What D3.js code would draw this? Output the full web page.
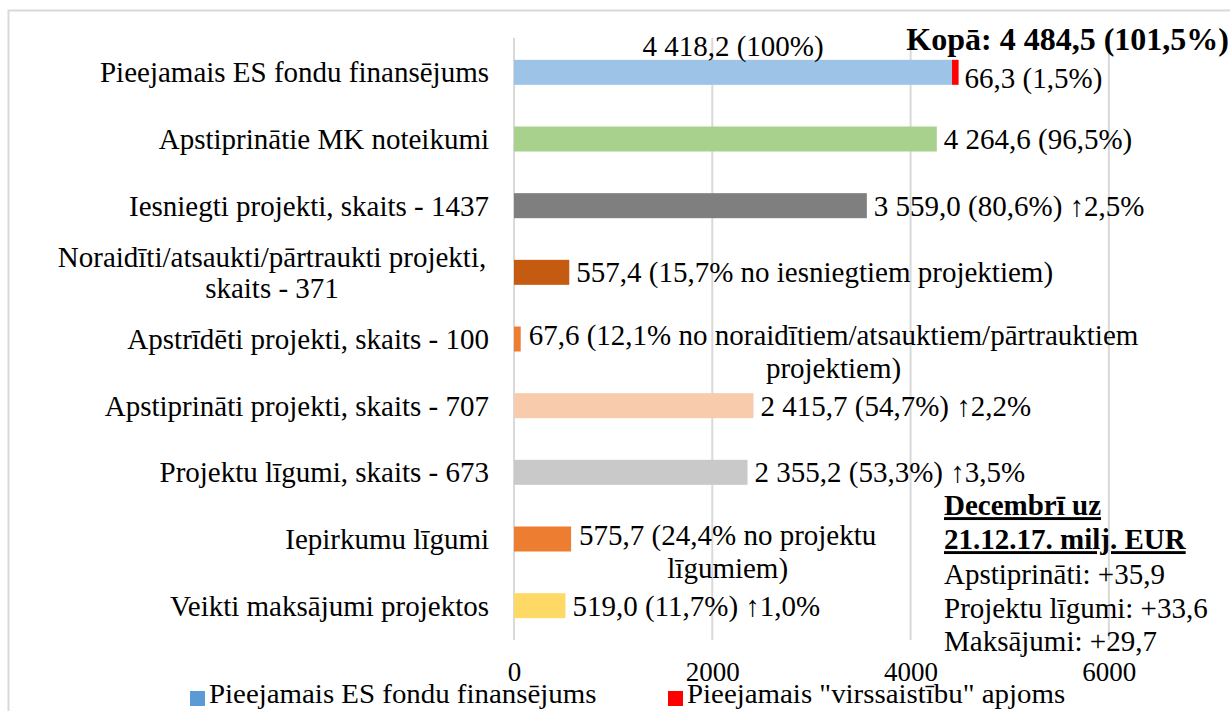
<!DOCTYPE html>
<html>
<head>
<meta charset="utf-8">
<script src="https://cdn.jsdelivr.net/npm/d3@7"></script>
<style>
  body { margin: 0; background: #fff; }
  svg text { font-family: "Liberation Serif", "DejaVu Serif", serif; fill: #000; }
</style>
</head>
<body>
<svg id="chart" width="1230" height="711"></svg>
<script>
// categories, top to bottom (multi-line labels split into lines)
var categories = [
  ["Pieejamais ES fondu finansējums"],
  ["Apstiprinātie MK noteikumi"],
  ["Iesniegti projekti, skaits - 1437"],
  ["Noraidīti/atsaukti/pārtraukti projekti,", "skaits - 371"],
  ["Apstrīdēti projekti, skaits - 100"],
  ["Apstiprināti projekti, skaits - 707"],
  ["Projektu līgumi, skaits - 673"],
  ["Iepirkumu līgumi"],
  ["Veikti maksājumi projektos"]
];
var values = [4418.2, 4264.6, 3559.0, 557.4, 67.6, 2415.7, 2355.2, 575.7, 519.0];
// "virssaistību" extra, only on the first row
var extraValues = [66.3, 0, 0, 0, 0, 0, 0, 0, 0];
var barColors = ["#9DC3E6", "#A9D18E", "#7F7F7F", "#C55A11", "#ED7D31",
                 "#F8CBAD", "#C9C9C9", "#ED7D31", "#FFD966"];
var valueLabels = [
  ["4 418,2 (100%)"],
  ["4 264,6 (96,5%)"],
  ["3 559,0 (80,6%) ↑2,5%"],
  ["557,4 (15,7% no iesniegtiem projektiem)"],
  ["67,6 (12,1% no noraidītiem/atsauktiem/pārtrauktiem", "projektiem)"],
  ["2 415,7 (54,7%) ↑2,2%"],
  ["2 355,2 (53,3%) ↑3,5%"],
  ["575,7 (24,4% no projektu", "līgumiem)"],
  ["519,0 (11,7%) ↑1,0%"]
];
var extraLabel = "66,3 (1,5%)";
var totalLabel = "Kopā: 4 484,5 (101,5%)";
var xTicks = [0, 2000, 4000, 6000];
var noteTitle = ["Decembrī uz", "21.12.17. milj. EUR"];
var noteLines = ["Apstiprināti: +35,9", "Projektu līgumi: +33,6", "Maksājumi: +29,7"];
var legendItems = [
  {name: "Pieejamais ES fondu finansējums", color: "#5B9BD5"},
  {name: "Pieejamais \"virssaistību\" apjoms", color: "#FF0000"}
];

var svg = d3.select("#chart");
var grid = "#D9D9D9";

// chart border (runs off the right/bottom edge)
svg.append("rect")
  .attr("x", 8.5).attr("y", 10.5)
  .attr("width", 1240).attr("height", 720)
  .attr("fill", "none").attr("stroke", grid).attr("stroke-width", 2);

var x = d3.scaleLinear().domain([0, 7000]).range([514, 1208]);
var y = d3.scaleBand()
  .domain(d3.range(categories.length))
  .range([39, 639])
  .paddingInner(0.625)
  .paddingOuter(0.3125);

var g = svg.append("g");

// vertical gridlines
g.selectAll(".grid")
  .data(xTicks)
  .enter().append("line")
    .attr("class", "grid")
    .attr("x1", (d) => x(d)).attr("x2", (d) => x(d))
    .attr("y1", 38).attr("y2", 640)
    .attr("stroke", grid).attr("stroke-width", 2);

// bars
g.selectAll(".bar")
  .data(values)
  .enter().append("rect")
    .attr("class", "bar")
    .attr("x", x(0))
    .attr("y", (d, i) => y(i))
    .attr("height", y.bandwidth())
    .attr("width", (d) => x(d) - x(0))
    .attr("fill", (d, i) => barColors[i]);

// stacked red segment
g.selectAll(".extra")
  .data(extraValues.filter((d) => d > 0))
  .enter().append("rect")
    .attr("class", "extra")
    .attr("x", (d, i) => x(values[i]))
    .attr("y", (d, i) => y(i))
    .attr("height", y.bandwidth())
    .attr("width", (d, i) => x(values[i] + d) - x(values[i]))
    .attr("fill", "#FF0000");

// category labels (right aligned, multi-line centred on the band)
var lineH = 31;
var catG = g.selectAll(".cat")
  .data(categories)
  .enter().append("text")
    .attr("class", "cat")
    .attr("font-size", 29)
    .attr("text-anchor", (d) => d.length > 1 ? "middle" : "end")
    .attr("transform", function(d, i) {
      var cy = y(i) + y.bandwidth() / 2 - (d.length - 1) * lineH / 2;
      var cx = d.length > 1 ? 272 : 489;
      return "translate(" + cx + "," + cy + ")";
    });
catG.selectAll("tspan")
  .data((d) => d)
  .enter().append("tspan")
    .attr("x", 0)
    .attr("y", (d, j) => j * lineH)
    .attr("dy", "0.35em")
    .text((d) => d);

// value labels
valueLabels.forEach(function(lines, i) {
  var cy = y(i) + y.bandwidth() / 2;
  var end = x(values[i] + extraValues[i]);
  if (i === 0) {
    // first row: label sits above the bar, centred on it
    svg.append("text")
      .attr("font-size", 29)
      .attr("text-anchor", "middle")
      .attr("x", x(values[i] / 2))
      .attr("y", y(i) - 14)
      .attr("dy", "0.35em")
      .text(lines[0]);
    return;
  }
  if (lines.length === 1) {
    svg.append("text")
      .attr("font-size", 29)
      .attr("x", end + 7)
      .attr("y", cy)
      .attr("dy", "0.35em")
      .text(lines[0]);
  } else {
    var t = svg.append("text")
      .attr("font-size", 29)
      .attr("x", end + 8)
      .attr("y", cy - 4)
      .attr("dy", "0.35em")
      .text(lines[0]);
    var w = t.node().getComputedTextLength();
    svg.append("text")
      .attr("font-size", 29)
      .attr("text-anchor", "middle")
      .attr("x", end + 8 + w / 2)
      .attr("y", cy - 4 + 33)
      .attr("dy", "0.35em")
      .text(lines[1]);
  }
});

// red segment label + total
svg.append("text")
  .attr("font-size", 29)
  .attr("x", x(values[0] + extraValues[0]) + 6)
  .attr("y", y(0) + y.bandwidth() / 2 + 6)
  .attr("dy", "0.35em")
  .text(extraLabel);
svg.append("text")
  .attr("font-size", 32)
  .attr("font-weight", "bold")
  .attr("text-anchor", "end")
  .attr("x", 1229)
  .attr("y", 39)
  .attr("dy", "0.35em")
  .text(totalLabel);

// x axis tick labels
var ax = d3.axisBottom(x).tickValues(xTicks).tickFormat(d3.format("d"))
  .tickSize(0).tickPadding(0);
var axG = svg.append("g")
  .attr("transform", "translate(0,662)")
  .call(ax);
axG.select(".domain").remove();
axG.selectAll("text")
  .attr("font-size", 27)
  .attr("fill", "#000")
  .style("font-family", "'Liberation Serif', serif");

// note box on the right
var note = svg.append("text").attr("font-size", 29);
noteTitle.forEach(function(s, k) {
  note.append("tspan")
    .attr("x", 944).attr("y", 505 + k * 34).attr("dy", "0.35em")
    .attr("font-weight", "bold")
    .attr("text-decoration", "underline")
    .text(s);
});
noteLines.forEach(function(s, k) {
  note.append("tspan")
    .attr("x", 944).attr("y", 574 + k * 33.5).attr("dy", "0.35em")
    .text(s);
});

// legend (text slightly widened, like the reference)
var lx = [190, 668];
var leg = svg.selectAll(".legend")
  .data(legendItems)
  .enter().append("g")
    .attr("class", "legend")
    .attr("transform", (d, i) => "translate(" + lx[i] + ",694)");
leg.append("rect")
  .attr("x", 0).attr("y", -3)
  .attr("width", 15).attr("height", 15)
  .attr("fill", (d) => d.color);
leg.append("text")
  .attr("font-size", 27)
  .attr("transform", "translate(19,0) scale(1.07,1)")
  .attr("dy", "0.35em")
  .text((d) => d.name);
</script>
</body>
</html>
